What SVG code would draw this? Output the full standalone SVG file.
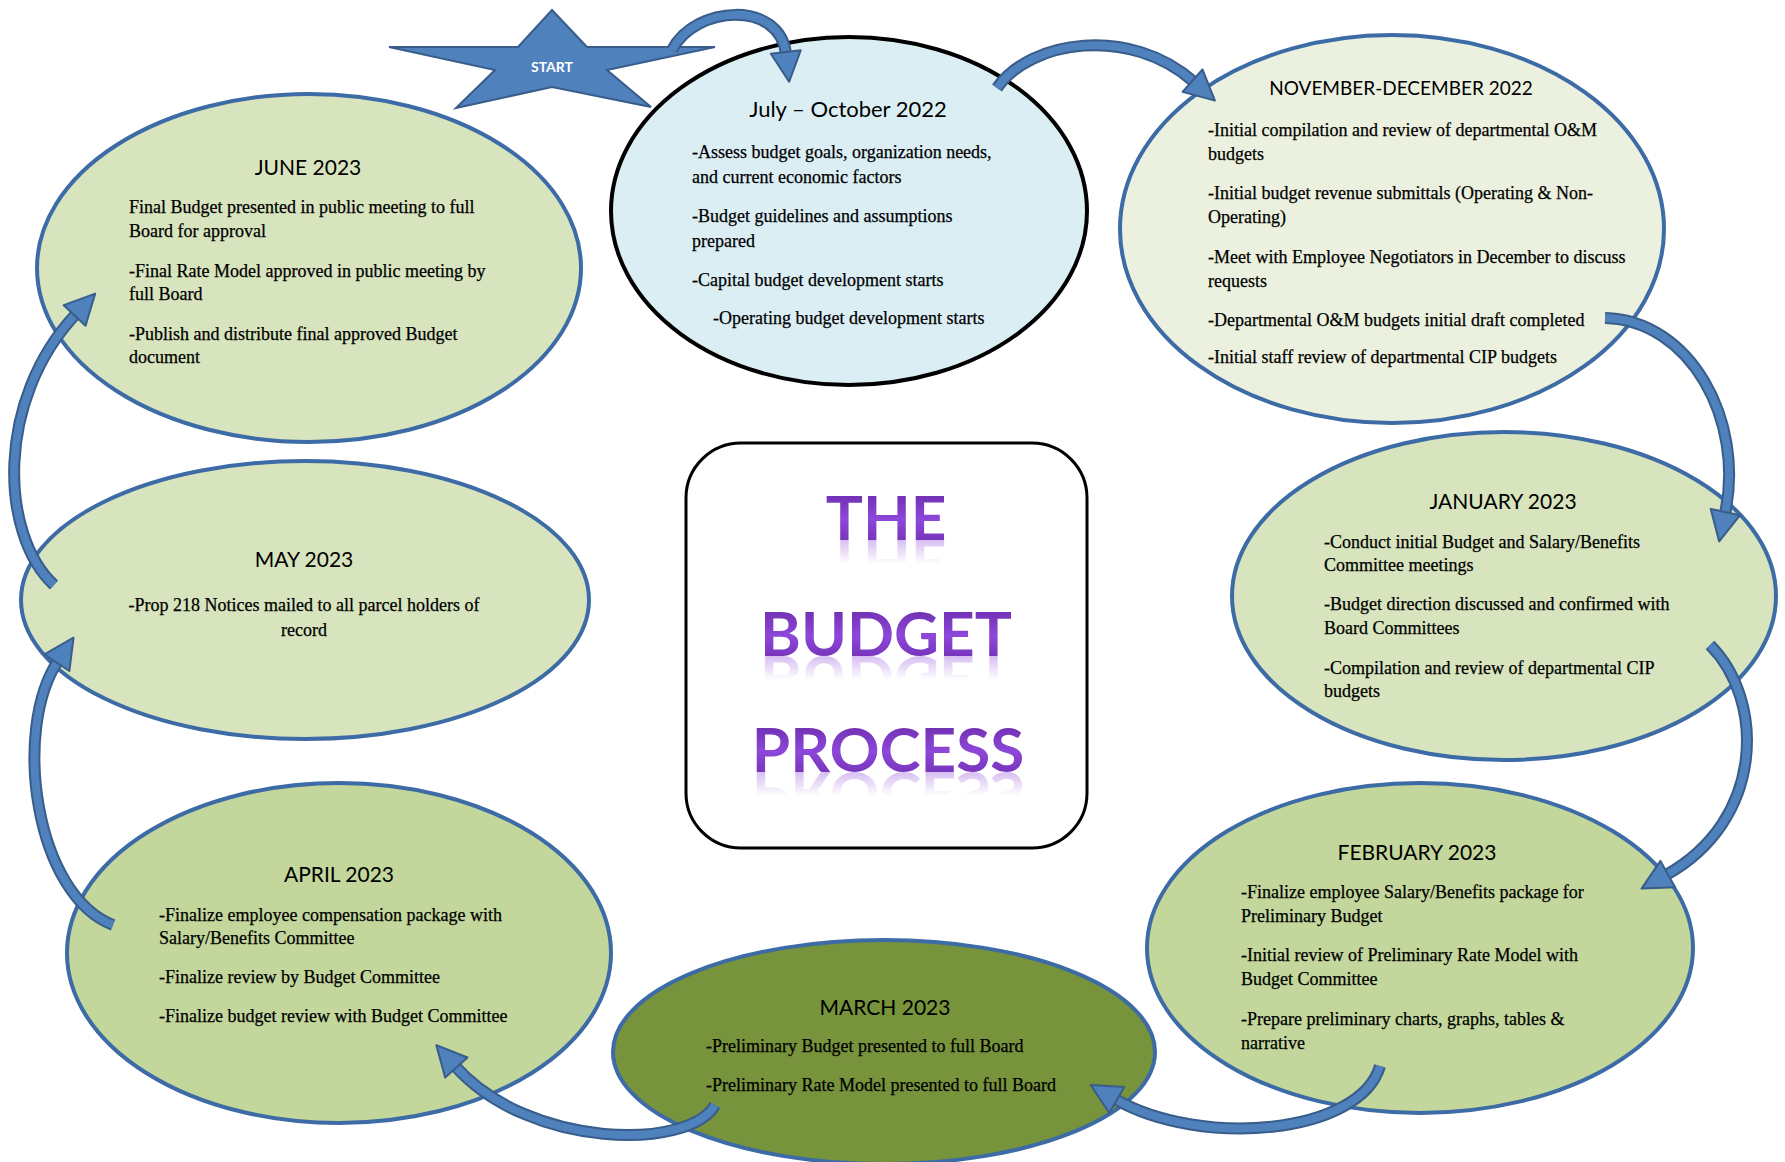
<svg xmlns="http://www.w3.org/2000/svg" xmlns:xlink="http://www.w3.org/1999/xlink" width="1785" height="1162" viewBox="0 0 1785 1162">
<style>
.ell{stroke:#3d6ba6;stroke-width:4}
.title{font-family:Lato,"Liberation Sans",sans-serif;font-size:21px;fill:#000;text-anchor:middle}
.body{font-family:"Liberation Serif","Times New Roman",serif;font-size:18px;fill:#000;stroke:#000;stroke-width:0.25}
.big{font-family:Lato,"Open Sans","Liberation Sans",sans-serif;font-weight:bold;font-size:62px;text-anchor:middle}
.arr-o{fill:none;stroke:#385d8a;stroke-width:12;stroke-linecap:butt}
.arr{fill:none;stroke:#4f81bd;stroke-width:8;stroke-linecap:butt;marker-end:url(#head)}
</style>
<defs>
<marker id="head" markerUnits="userSpaceOnUse" markerWidth="40" markerHeight="40" viewBox="0 0 40 40" refX="2" refY="20" orient="auto" overflow="visible">
<path d="M0,5 L30,20 L0,35 Z" fill="#4f81bd" stroke="#385d8a" stroke-width="2" stroke-linejoin="round"/>
</marker>
<linearGradient id="purp" x1="0" y1="0" x2="0" y2="1">
<stop offset="0" stop-color="#5f2399"/>
<stop offset="0.55" stop-color="#8d47da"/>
<stop offset="1" stop-color="#6a2aa8"/>
</linearGradient>
<linearGradient id="refl" x1="0" y1="0" x2="0" y2="1">
<stop offset="0.5" stop-color="#8d47da" stop-opacity="0"/>
<stop offset="0.82" stop-color="#8d47da" stop-opacity="0.35"/>
<stop offset="1" stop-color="#8d47da" stop-opacity="0.35"/>
</linearGradient>
<text id="w-the" class="big" x="886" y="540">THE</text>
<text id="w-budget" class="big" x="886" y="656">BUDGET</text>
<text id="w-process" class="big" x="888" y="772">PROCESS</text>
</defs>

<g id="node-july">
<ellipse cx="849" cy="211" rx="238" ry="174" fill="#dbeef4" stroke="#000" stroke-width="4"/>
<text class="title" x="848" y="117" style="font-size:22px">July – October 2022</text>
<text class="body" x="692" y="158">-Assess budget goals, organization needs,</text>
<text class="body" x="692" y="183">and current economic factors</text>
<text class="body" x="692" y="222">-Budget guidelines and assumptions</text>
<text class="body" x="692" y="247">prepared</text>
<text class="body" x="692" y="286">-Capital budget development starts</text>
<text class="body" x="713" y="324">-Operating budget development starts</text>
</g>

<g id="node-start">
<polygon points="552,10 587,47 715,47 607,70 651,107 552,87 456,108 495,70 389,47 518,47" fill="#4f81bd" stroke="#385d8a" stroke-width="2" stroke-linejoin="miter"/>
<text x="552" y="72" style="font-family:Lato,'Liberation Sans',sans-serif;font-size:14px;font-weight:bold;fill:#fff;text-anchor:middle">START</text>
</g>

<g id="node-novdec">
<ellipse class="ell" cx="1392" cy="229" rx="272" ry="194" fill="#ebf1de"/>
<text class="title" x="1401" y="95" style="font-size:19px">NOVEMBER-DECEMBER 2022</text>
<text class="body" x="1208" y="136">-Initial compilation and review of departmental O&amp;M</text>
<text class="body" x="1208" y="160">budgets</text>
<text class="body" x="1208" y="199">-Initial budget revenue submittals (Operating &amp; Non-</text>
<text class="body" x="1208" y="223">Operating)</text>
<text class="body" x="1208" y="263">-Meet with Employee Negotiators in December to discuss</text>
<text class="body" x="1208" y="287">requests</text>
<text class="body" x="1208" y="326">-Departmental O&amp;M budgets initial draft completed</text>
<text class="body" x="1208" y="363">-Initial staff review of departmental CIP budgets</text>
</g>

<g id="node-june">
<ellipse class="ell" cx="309" cy="268" rx="272" ry="174" fill="#d7e4bd"/>
<text class="title" x="308" y="175">JUNE 2023</text>
<text class="body" x="129" y="213">Final Budget presented in public meeting to full</text>
<text class="body" x="129" y="237">Board for approval</text>
<text class="body" x="129" y="277">-Final Rate Model approved in public meeting by</text>
<text class="body" x="129" y="300">full Board</text>
<text class="body" x="129" y="340">-Publish and distribute final approved Budget</text>
<text class="body" x="129" y="363">document</text>
</g>

<g id="node-may">
<ellipse class="ell" cx="305" cy="600" rx="284" ry="139" fill="#d7e4bd"/>
<text class="title" x="304" y="567">MAY 2023</text>
<text class="body" x="304" y="611" text-anchor="middle">-Prop 218 Notices mailed to all parcel holders of</text>
<text class="body" x="304" y="636" text-anchor="middle">record</text>
</g>

<g id="node-january">
<ellipse class="ell" cx="1504" cy="596" rx="272" ry="164" fill="#d7e4bd"/>
<text class="title" x="1503" y="509">JANUARY 2023</text>
<text class="body" x="1324" y="548">-Conduct initial Budget and Salary/Benefits</text>
<text class="body" x="1324" y="571">Committee meetings</text>
<text class="body" x="1324" y="610">-Budget direction discussed and confirmed with</text>
<text class="body" x="1324" y="634">Board Committees</text>
<text class="body" x="1324" y="674">-Compilation and review of departmental CIP</text>
<text class="body" x="1324" y="697">budgets</text>
</g>

<g id="node-april">
<ellipse class="ell" cx="339" cy="953" rx="272" ry="170" fill="#c3d69b"/>
<text class="title" x="339" y="882">APRIL 2023</text>
<text class="body" x="159" y="921">-Finalize employee compensation package with</text>
<text class="body" x="159" y="944">Salary/Benefits Committee</text>
<text class="body" x="159" y="983">-Finalize review by Budget Committee</text>
<text class="body" x="159" y="1022">-Finalize budget review with Budget Committee</text>
</g>

<g id="node-february">
<ellipse class="ell" cx="1420" cy="948" rx="273" ry="165" fill="#c3d69b"/>
<text class="title" x="1417" y="860">FEBRUARY 2023</text>
<text class="body" x="1241" y="898">-Finalize employee Salary/Benefits package for</text>
<text class="body" x="1241" y="922">Preliminary Budget</text>
<text class="body" x="1241" y="961">-Initial review of Preliminary Rate Model with</text>
<text class="body" x="1241" y="985">Budget Committee</text>
<text class="body" x="1241" y="1025">-Prepare preliminary charts, graphs, tables &amp;</text>
<text class="body" x="1241" y="1049">narrative</text>
</g>

<g id="node-march">
<ellipse class="ell" cx="884" cy="1052" rx="271" ry="112" fill="#77933c"/>
<text class="title" x="885" y="1015">MARCH 2023</text>
<text class="body" x="706" y="1052">-Preliminary Budget presented to full Board</text>
<text class="body" x="706" y="1091">-Preliminary Rate Model presented to full Board</text>
</g>

<g id="node-title">
<rect x="686" y="443" width="401" height="405" rx="55" ry="55" fill="#fff" stroke="#000" stroke-width="3"/>
<use xlink:href="#w-the" href="#w-the" fill="url(#refl)" transform="translate(0,1080) scale(1,-1)"/>
<use xlink:href="#w-budget" href="#w-budget" fill="url(#refl)" transform="translate(0,1312) scale(1,-1)"/>
<use xlink:href="#w-process" href="#w-process" fill="url(#refl)" transform="translate(0,1544) scale(1,-1)"/>
<use xlink:href="#w-the" href="#w-the" fill="url(#purp)"/>
<use xlink:href="#w-budget" href="#w-budget" fill="url(#purp)"/>
<use xlink:href="#w-process" href="#w-process" fill="url(#purp)"/>
</g>

<g id="connectors">
<path class="arr-o" d="M672,50 C695,5 780,0 786,54"/>
<path class="arr" d="M672,50 C695,5 780,0 786,54"/>
<path class="arr-o" d="M997,88 C1030,40 1130,25 1194,82"/>
<path class="arr" d="M997,88 C1030,40 1130,25 1194,82"/>
<path class="arr-o" d="M1605,318 C1690,320 1745,420 1725,514"/>
<path class="arr" d="M1605,318 C1690,320 1745,420 1725,514"/>
<path class="arr-o" d="M1710,645 C1765,700 1765,820 1666,875"/>
<path class="arr" d="M1710,645 C1765,700 1765,820 1666,875"/>
<path class="arr-o" d="M1380,1066 C1360,1135 1200,1148 1115,1099"/>
<path class="arr" d="M1380,1066 C1360,1135 1200,1148 1115,1099"/>
<path class="arr-o" d="M715,1105 C690,1150 530,1150 455,1066"/>
<path class="arr" d="M715,1105 C690,1150 530,1150 455,1066"/>
<path class="arr-o" d="M113,925 C35,895 12,730 58,661"/>
<path class="arr" d="M113,925 C35,895 12,730 58,661"/>
<path class="arr-o" d="M54,585 C0,535 -5,400 76,314"/>
<path class="arr" d="M54,585 C0,535 -5,400 76,314"/>
</g>
</svg>
